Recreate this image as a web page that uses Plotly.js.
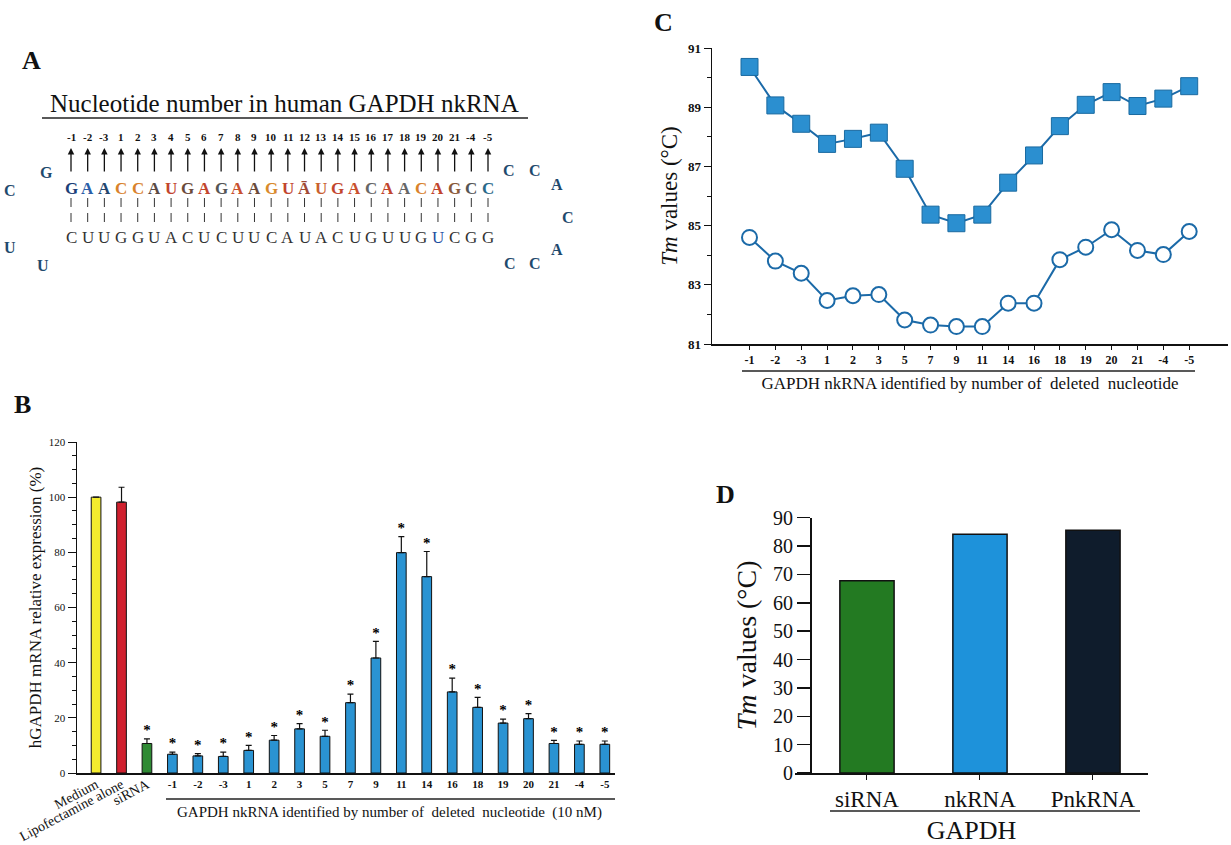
<!DOCTYPE html>
<html><head><meta charset="utf-8">
<script src="https://cdn.plot.ly/plotly-3.0.1.min.js"></script>
<style>html,body{margin:0;padding:0;background:#fff;}#chart{width:1231px;height:845px;}</style>
</head><body><div id="chart"></div>
<script>
// ---------- Panel A: sequence ----------
const nucleotideNumbers = ['-1','-2','-3','1','2','3','4','5','6','7','8','9','10','11','12','13','14','15','16','17','18','19','20','21','-4','-5'];
const senseStrand = ['G','A','A','C','C','A','U','G','A','G','A','A','G','U','Ā','U','G','A','C','A','A','C','A','G','C','C'];
const antisenseStrand = ['C','U','U','G','G','U','A','C','U','C','U','U','C','A','U','A','C','U','G','U','U','G','U','C','G','G'];
const leftLoop = ['G','C','U','U'];
const rightLoop = ['C','C','A','C','A','C','C'];
const panelATitle = 'Nucleotide number in human GAPDH nkRNA';

// ---------- Panel B: relative expression ----------
const bCategories = ['Medium','Lipofectamine alone','siRNA','-1','-2','-3','1','2','3','5','7','9','11','14','16','18','19','20','21','-4','-5'];
const bValues = [100, 98.2, 10.7, 6.8, 6.2, 6.0, 8.2, 11.9, 16.0, 13.3, 25.5, 41.7, 79.9, 71.2, 29.4, 23.8, 18.1, 19.7, 10.7, 10.4, 10.4];
const bErrors = [0, 5.4, 1.7, 0.8, 0.8, 1.6, 1.8, 1.7, 1.9, 2.2, 3.1, 6.0, 5.8, 9.1, 5.0, 3.6, 1.4, 1.8, 1.1, 1.2, 1.2];
const bSignificant = [false,false,true,true,true,true,true,true,true,true,true,true,true,true,true,true,true,true,true,true,true];
const bYTicks = [0,20,40,60,80,100,120];

// ---------- Panel C: Tm line chart ----------
const cCategories = ['-1','-2','-3','1','2','3','5','7','9','11','14','16','18','19','20','21','-4','-5'];
const cSquares = [90.36, 89.06, 88.44, 87.76, 87.93, 88.14, 86.92, 85.37, 85.08, 85.37, 86.45, 87.37, 88.36, 89.08, 89.51, 89.04, 89.29, 89.71];
const cCircles = [84.6, 83.8, 83.39, 82.47, 82.63, 82.67, 81.81, 81.64, 81.59, 81.59, 82.38, 82.38, 83.85, 84.27, 84.86, 84.16, 84.02, 84.8];
const cYTicks = [81,83,85,87,89,91];

// ---------- Panel D: Tm bars ----------
const dCategories = ['siRNA','nkRNA','PnkRNA'];
const dValues = [67.8, 84.2, 85.6];

// ---------- styles ----------
const W = 1231, H = 845;
const px = x => x / W;
const py = y => 1 - y / H;
const SERIF = '"Liberation Serif","Times New Roman",serif';
const senseColors = ['#1c3f78','#2a5ea8','#23466e','#d9822b','#d9822b','#5a4a44','#c2452d','#6b4a3a','#c2452d','#555','#c9502e','#6a4a3a',
  '#d98a2b','#c2452d','#a04a36','#c9602e','#c2452d','#c9502e','#666','#c2452d','#666','#d9822b','#c2452d','#8a5a3a','#555','#2a6a8a'];
const antisenseColors = antisenseStrand.map((b,i) => i === 22 ? '#1f4f9f' : '#333');
const bColors = bCategories.map((c,i) => i === 0 ? '#f4ec2e' : i === 1 ? '#d0202e' : i === 2 ? '#2f8a34' : '#2a93d2');
const dColors = ['#237a22','#1e92da','#0f1c2c'];

// ---------- traces ----------
const traces = [];
traces.push({
  type:'bar', x:bCategories, y:bValues, xaxis:'x', yaxis:'y', width:0.38,
  marker:{color:bColors, line:{color:'#111', width:1}},
  error_y:{type:'data', symmetric:false, array:bErrors.map(e => e > 0 ? e : NaN), arrayminus:bErrors.map(() => 0),
    color:'#111', thickness:1.2, width:3},
  showlegend:false, hoverinfo:'x+y'
});
const sigX = [], sigY = [];
bCategories.forEach((c,i) => { if (bSignificant[i]) { sigX.push(c); sigY.push(bValues[i] + bErrors[i]); } });
traces.push({
  type:'scatter', mode:'text', x:sigX, y:sigY, xaxis:'x', yaxis:'y', text:sigX.map(() => '*'),
  textposition:'top center', textfont:{size:15, color:'#000000', family:SERIF, weight:'bold'},
  cliponaxis:false, showlegend:false, hoverinfo:'skip'
});
traces.push({type:'scatter', x:[], y:[], xaxis:'x4', yaxis:'y', showlegend:false, hoverinfo:'skip'});

traces.push({
  type:'scatter', mode:'lines+markers', x:cCategories, y:cSquares, xaxis:'x2', yaxis:'y2',
  line:{color:'#1b6aa8', width:2},
  marker:{symbol:'square', size:17, color:'#2b8fd0', line:{color:'#1a6aa0', width:1}},
  cliponaxis:false, showlegend:false
});
traces.push({
  type:'scatter', mode:'lines+markers', x:cCategories, y:cCircles, xaxis:'x2', yaxis:'y2',
  line:{color:'#1b6aa8', width:2},
  marker:{symbol:'circle', size:15, color:'#ffffff', line:{color:'#1b6aa8', width:2}},
  cliponaxis:false, showlegend:false
});

traces.push({
  type:'bar', x:dCategories, y:dValues, xaxis:'x3', yaxis:'y3', width:0.48,
  marker:{color:dColors, line:{color:'#111', width:1.5}}, showlegend:false
});

// ---------- annotations & shapes (panel A and decorations) ----------
const ann = [];
const shapes = [];
const x0 = 71, dx = 16.68;
function addText(text, x, y, size, color, bold, extra) {
  ann.push(Object.assign({text:text, xref:'paper', yref:'paper', x:px(x), y:py(y), showarrow:false,
    xanchor:'center', yanchor:'middle', font:{family:SERIF, size:size, color:color||'#111', weight: bold ? 'bold' : 'normal'}}, extra||{}));
}
// panel letters
addText('A', 31, 61, 26, '#111', true);
addText('B', 22, 404, 26, '#111', true);
addText('C', 663, 22, 26, '#111', true);
addText('D', 725, 494, 26, '#111', true);
// panel A title + underline
addText(panelATitle, 284, 103, 25, '#111', false);
shapes.push({type:'line', xref:'paper', yref:'paper', x0:px(42), x1:px(528), y0:py(118), y1:py(118), line:{color:'#222', width:1.5}});
nucleotideNumbers.forEach((n,i) => {
  const x = x0 + i*dx;
  addText(n, x, 137, 11, '#111', true);
  ann.push({text:'', xref:'paper', yref:'paper', x:px(x), y:py(148), showarrow:true, ax:0, ay:25,
    arrowhead:2, arrowsize:1, arrowwidth:1.3, arrowcolor:'#111'});
  addText(senseStrand[i], x, 189, 17, senseColors[i], true);
  addText(antisenseStrand[i], x, 238, 17, antisenseColors[i], false);
  shapes.push({type:'line', xref:'paper', yref:'paper', x0:px(x), x1:px(x), y0:py(198), y1:py(207), line:{color:'#333', width:1}});
  shapes.push({type:'line', xref:'paper', yref:'paper', x0:px(x), x1:px(x), y0:py(213), y1:py(222), line:{color:'#333', width:1}});
});
const leftLoopPos = [[47,172],[10,190],[10,247],[43,265]];
leftLoop.forEach((b,i) => addText(b, leftLoopPos[i][0], leftLoopPos[i][1], 16, '#1f4a6e', true));
const rightLoopPos = [[509,170],[535,170],[557,184],[568,217],[557,249],[510,263],[535,263]];
rightLoop.forEach((b,i) => addText(b, rightLoopPos[i][0], rightLoopPos[i][1], 16, '#1f4a6e', true));

// panel B x title + underline
shapes.push({type:'line', xref:'paper', yref:'paper', x0:px(166), x1:px(615), y0:py(799), y1:py(799), line:{color:'#222', width:1.3}});
addText('GAPDH nkRNA identified by number of\u00a0 deleted\u00a0 nucleotide\u00a0 (10 nM)', 389, 812, 15, '#111', false);
// panel C underline
shapes.push({type:'line', xref:'paper', yref:'paper', x0:px(742), x1:px(1195), y0:py(371), y1:py(371), line:{color:'#222', width:1.3}});
// panel D underline
shapes.push({type:'line', xref:'paper', yref:'paper', x0:px(830), x1:px(1140), y0:py(811), y1:py(811), line:{color:'#222', width:1.5}});

// ---------- layout ----------
const axisBase = {showgrid:false, zeroline:false, showline:true, linecolor:'#111', linewidth:1.5, tickcolor:'#111', fixedrange:true};
const layout = {
  width:W, height:H, margin:{l:0, r:0, t:0, b:0},
  paper_bgcolor:'#ffffff', plot_bgcolor:'rgba(0,0,0,0)',
  font:{family:SERIF, color:'#111'},
  showlegend:false, bargap:0,
  xaxis: Object.assign({}, axisBase, {domain:[px(77), px(615)], anchor:'y', type:'category', range:[-0.75, 20.4],
    ticks:'', tickvals:bCategories.slice(3), ticktext:bCategories.slice(3), tickangle:0,
    tickfont:{size:11, weight:'bold'}}),
  xaxis4: {overlaying:'x', anchor:'y', type:'linear', range:[-0.75, 20.4], showline:false, showgrid:false, zeroline:false,
    ticks:'', tickvals:[0,1,2], ticktext:bCategories.slice(0,3), tickangle:-28, tickfont:{size:14}, fixedrange:true},
  yaxis: Object.assign({}, axisBase, {domain:[1-773/H, 1-442/H], anchor:'x', range:[0,120], tickvals:bYTicks,
    ticks:'outside', ticklen:8, tickwidth:1, minor:{dtick:5, ticks:'outside', ticklen:4, tickcolor:'#111'},
    tickfont:{size:11}, title:{text:'hGAPDH mRNA relative expression (%)', font:{size:17}, standoff:3}}),
  xaxis2: Object.assign({}, axisBase, {domain:[px(712), px(1228)], anchor:'y2', type:'category', range:[-1.45, 18.5],
    ticks:'outside', ticklen:4, tickwidth:1, tickfont:{size:12, weight:'bold'},
    title:{text:'GAPDH nkRNA identified by number of\u00a0 deleted\u00a0 nucleotide', font:{size:17}, standoff:11}}),
  yaxis2: Object.assign({}, axisBase, {domain:[1-344/H, 1-48/H], anchor:'x2', range:[81,91], tickvals:cYTicks,
    ticks:'outside', ticklen:7, tickwidth:1, minor:{dtick:1, ticks:'outside', ticklen:4, tickcolor:'#111'},
    tickfont:{size:13, weight:'bold'}, title:{text:'<i>Tm</i> values (°C)', font:{size:23}, standoff:4}}),
  xaxis3: Object.assign({}, axisBase, {domain:[px(795), px(1148)], anchor:'y3', type:'category', range:[-0.637, 2.487],
    ticks:'outside', ticklen:5, tickwidth:1, tickfont:{size:23},
    title:{text:'GAPDH', font:{size:26}, standoff:9}}),
  yaxis3: Object.assign({}, axisBase, {domain:[1-773/H, 1-517.7/H], anchor:'free', position:px(810), range:[0,90], dtick:10,
    ticks:'outside', ticklen:13, tickwidth:1.5, tickfont:{size:20},
    title:{text:'<i>Tm</i> values (°C)', font:{size:28}, standoff:6}}),
  annotations: ann,
  shapes: shapes
};
Plotly.newPlot('chart', traces, layout, {staticPlot:true, displayModeBar:false});
</script></body></html>
